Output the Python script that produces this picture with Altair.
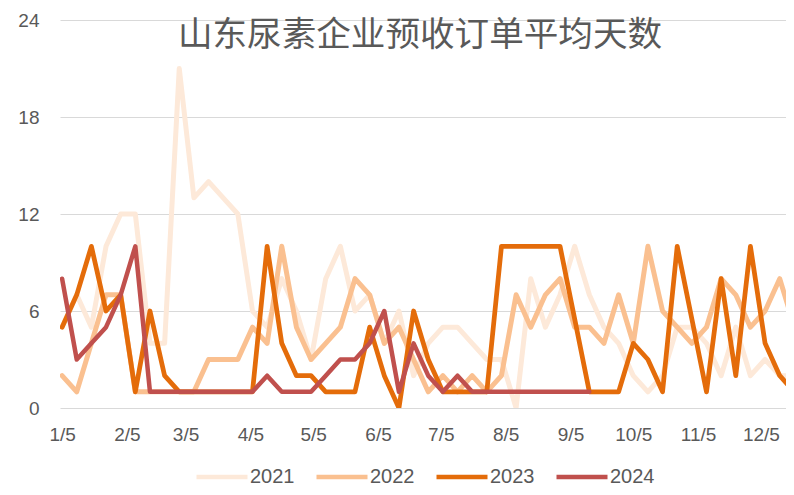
import altair as alt
import pandas as pd

# ---- data (weekly, starting 1/5) ----
start_date = "2023-01-05"
years = ["2021", "2022", "2023", "2024"]

v2021 = [5, 7, 5, 10, 12, 12, 4, 4, 21, 13, 14, 13, 12, 6, 5, 8, 6, 3, 8, 10,
         6, 7, 4, 6, 2, 4, 5, 5, 4, 3, 3, 0, 8, 5, 7, 10, 7, 5, 4, 2,
         1, 2, 5, 5, 4, 2, 5, 2, 3, 2, 2]
v2022 = [2, 1, 4, 7, 7, 1, 1, 1, 1, 1, 3, 3, 3, 5, 4, 10, 5, 3, 4, 5,
         8, 7, 4, 5, 3, 1, 2, 1, 2, 1, 2, 7, 5, 7, 8, 5, 5, 4, 7, 4,
         10, 6, 5, 4, 5, 8, 7, 5, 6, 8, 5]
v2023 = [5, 7, 10, 6, 7, 1, 6, 2, 1, 1, 1, 1, 1, 1, 10, 4, 2, 2, 1, 1,
         1, 5, 2, 0, 6, 3, 1, 1, 1, 1, 10, 10, 10, 10, 10, 5.5, 1, 1, 1, 4,
         3, 1, 10, 5.5, 1, 8, 2, 10, 4, 2, 1, 8]
v2024 = [8, 3, 4, 5, 7, 10, 1, 1, 1, 1, 1, 1, 1, 1, 2, 1, 1, 1, 2, 3,
         3, 4, 6, 1, 4, 2, 1, 2, 1, 1, 1, 1, 1, 1, 1, 1, 1]

colors = ["#FDE9D9", "#FAC090", "#E46C0A", "#C0504D"]
widths = [5, 5, 4.75, 4.5]
tick_months = list(range(1, 13))

series = [v2021, v2022, v2023, v2024]
start = pd.Timestamp(start_date)
rows = []
for y, vals in zip(years, series):
    for k, v in enumerate(vals):
        rows.append({"date": (start + pd.Timedelta(days=7 * k)).strftime("%Y/%m/%d"),
                     "year": y, "value": v})
df = pd.DataFrame(rows)

LABEL_FONT = "Liberation Sans, Arial, sans-serif"
GRAY = "#595959"

x_enc = alt.X(
    "date:T",
    title=None,
    scale=alt.Scale(domain=[alt.DateTime(year=2023, month=1, date=4),
                            alt.DateTime(year=2023, month=12, date=17)], nice=False),
    axis=alt.Axis(values=[alt.DateTime(year=2023, month=m, date=5) for m in tick_months],
                  format="%-m/%-d", grid=False, domain=False, ticks=False,
                  labelPadding=17, labelFontSize=19, labelFont=LABEL_FONT,
                  labelColor=GRAY, labelFlush=False, labelOverlap=False),
)
y_enc = alt.Y(
    "value:Q",
    title=None,
    scale=alt.Scale(domain=[0, 24], nice=False),
    axis=alt.Axis(values=[0, 6, 12, 18, 24], grid=True, gridColor="#D9D9D9",
                  gridWidth=1, domain=False, ticks=False, labelPadding=21,
                  labelFontSize=19, labelFont=LABEL_FONT, labelColor=GRAY),
)
color_enc = alt.Color(
    "year:N",
    scale=alt.Scale(domain=years, range=colors),
    legend=alt.Legend(title=None, orient="none", direction="horizontal",
                      legendX=134, legendY=429, symbolType="stroke",
                      symbolSize=2601, symbolStrokeWidth=4.5, labelFontSize=20,
                      labelFont=LABEL_FONT, labelColor=GRAY, labelOffset=0,
                      columnPadding=12, padding=0),
)

layers = []
for y, w in zip(years, widths):
    layers.append(
        alt.Chart(df)
        .transform_filter(alt.datum.year == y)
        .mark_line(clip=True, strokeWidth=w, strokeJoin="round", strokeCap="round")
        .encode(x=x_enc, y=y_enc, color=color_enc)
    )

chart = (
    alt.layer(*layers)
    .properties(
        width=726,
        height=388,
        padding={"left": 52, "top": 12, "right": 0, "bottom": 79},
        autosize=alt.AutoSizeParams(type="none"),
        title=alt.TitleParams("山东尿素企业预收订单平均天数", font="Noto Sans CJK SC",
                              fontSize=34.6, fontWeight="normal", color=GRAY,
                              anchor="middle", frame="group", baseline="middle",
                              offset=0, dy=60, dx=-3),
    )
    .configure_view(stroke=None)
)

chart.save("out.html", embed_options={"renderer": "svg", "actions": False})
